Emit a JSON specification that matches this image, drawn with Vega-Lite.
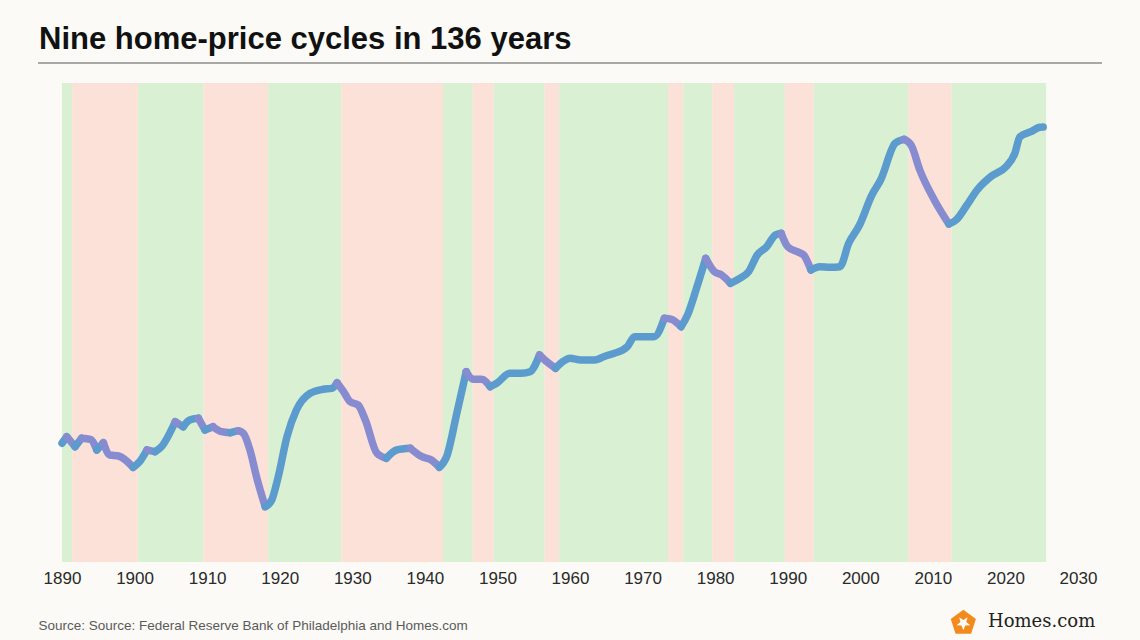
{
  "$schema": "https://vega.github.io/schema/vega-lite/v6.json",
  "width": 1016,
  "height": 479,
  "autosize": {"type": "none"},
  "padding": {"left": 62, "top": 83, "right": 62, "bottom": 78},
  "background": "#fbfaf6",
  "config": {
    "view": {"stroke": null},
    "font": "Liberation Sans"
  },
  "title": {
    "text": "Nine home-price cycles in 136 years",
    "anchor": "start",
    "frame": "group",
    "dx": -23,
    "dy": 51,
    "offset": 33,
    "baseline": "alphabetic",
    "fontSize": 31,
    "fontWeight": "bold",
    "font": "Liberation Sans",
    "color": "#111111"
  },
  "datasets": {
    "bands": [
      {"start": 1890, "end": 1891.4, "phase": "expansion"},
      {"start": 1891.4, "end": 1900.5, "phase": "contraction"},
      {"start": 1900.5, "end": 1909.5, "phase": "expansion"},
      {"start": 1909.5, "end": 1918.4, "phase": "contraction"},
      {"start": 1918.4, "end": 1928.5, "phase": "expansion"},
      {"start": 1928.5, "end": 1942.5, "phase": "contraction"},
      {"start": 1942.5, "end": 1946.6, "phase": "expansion"},
      {"start": 1946.6, "end": 1949.5, "phase": "contraction"},
      {"start": 1949.5, "end": 1956.5, "phase": "expansion"},
      {"start": 1956.5, "end": 1958.5, "phase": "contraction"},
      {"start": 1958.5, "end": 1973.5, "phase": "expansion"},
      {"start": 1973.5, "end": 1975.6, "phase": "contraction"},
      {"start": 1975.6, "end": 1979.6, "phase": "expansion"},
      {"start": 1979.6, "end": 1982.6, "phase": "contraction"},
      {"start": 1982.6, "end": 1989.6, "phase": "expansion"},
      {"start": 1989.6, "end": 1993.6, "phase": "contraction"},
      {"start": 1993.6, "end": 2006.6, "phase": "expansion"},
      {"start": 2006.6, "end": 2012.6, "phase": "contraction"},
      {"start": 2012.6, "end": 2025.6, "phase": "expansion"}
    ],
    "prices": [
      {"run": 1, "dir": "rising", "year": 1890.0, "index": 118.7},
      {"run": 1, "dir": "rising", "year": 1890.65, "index": 125.3},
      {"run": 2, "dir": "falling", "year": 1890.65, "index": 125.3},
      {"run": 2, "dir": "falling", "year": 1891.8, "index": 115.3},
      {"run": 3, "dir": "rising", "year": 1891.8, "index": 115.3},
      {"run": 3, "dir": "rising", "year": 1892.7, "index": 123.7},
      {"run": 4, "dir": "falling", "year": 1892.7, "index": 123.7},
      {"run": 4, "dir": "falling", "year": 1893.9, "index": 122.7},
      {"run": 4, "dir": "falling", "year": 1894.8, "index": 112},
      {"run": 5, "dir": "rising", "year": 1894.8, "index": 112},
      {"run": 5, "dir": "rising", "year": 1895.7, "index": 119.3},
      {"run": 6, "dir": "falling", "year": 1895.7, "index": 119.3},
      {"run": 6, "dir": "falling", "year": 1896.6, "index": 107},
      {"run": 6, "dir": "falling", "year": 1897.8, "index": 106},
      {"run": 6, "dir": "falling", "year": 1899.8, "index": 94.7},
      {"run": 7, "dir": "rising", "year": 1899.8, "index": 94.7},
      {"run": 7, "dir": "rising", "year": 1900.7, "index": 100.3},
      {"run": 7, "dir": "rising", "year": 1901.7, "index": 112},
      {"run": 8, "dir": "falling", "year": 1901.7, "index": 112},
      {"run": 8, "dir": "falling", "year": 1902.8, "index": 110.3},
      {"run": 9, "dir": "rising", "year": 1902.8, "index": 110.3},
      {"run": 9, "dir": "rising", "year": 1903.7, "index": 115.3},
      {"run": 9, "dir": "rising", "year": 1905.6, "index": 140.3},
      {"run": 10, "dir": "falling", "year": 1905.6, "index": 140.3},
      {"run": 10, "dir": "falling", "year": 1906.7, "index": 135.3},
      {"run": 11, "dir": "rising", "year": 1906.7, "index": 135.3},
      {"run": 11, "dir": "rising", "year": 1907.6, "index": 142},
      {"run": 11, "dir": "rising", "year": 1908.8, "index": 143.7},
      {"run": 12, "dir": "falling", "year": 1908.8, "index": 143.7},
      {"run": 12, "dir": "falling", "year": 1909.7, "index": 132},
      {"run": 13, "dir": "rising", "year": 1909.7, "index": 132},
      {"run": 13, "dir": "rising", "year": 1910.8, "index": 135.3},
      {"run": 14, "dir": "falling", "year": 1910.8, "index": 135.3},
      {"run": 14, "dir": "falling", "year": 1912.0, "index": 130.3},
      {"run": 14, "dir": "falling", "year": 1913.2, "index": 129.3},
      {"run": 15, "dir": "rising", "year": 1913.2, "index": 129.3},
      {"run": 15, "dir": "rising", "year": 1914.3, "index": 131.3},
      {"run": 16, "dir": "falling", "year": 1914.3, "index": 131.3},
      {"run": 16, "dir": "falling", "year": 1915.0, "index": 128.7},
      {"run": 16, "dir": "falling", "year": 1915.9, "index": 112},
      {"run": 16, "dir": "falling", "year": 1916.8, "index": 85.3},
      {"run": 16, "dir": "falling", "year": 1918.0, "index": 55.3},
      {"run": 17, "dir": "rising", "year": 1918.0, "index": 55.3},
      {"run": 17, "dir": "rising", "year": 1918.9, "index": 62},
      {"run": 17, "dir": "rising", "year": 1919.8, "index": 85.3},
      {"run": 17, "dir": "rising", "year": 1921.0, "index": 125.3},
      {"run": 17, "dir": "rising", "year": 1922.3, "index": 152},
      {"run": 17, "dir": "rising", "year": 1924.2, "index": 168.7},
      {"run": 17, "dir": "rising", "year": 1926.0, "index": 172.7},
      {"run": 17, "dir": "rising", "year": 1927.2, "index": 173.7},
      {"run": 17, "dir": "rising", "year": 1927.9, "index": 179.3},
      {"run": 18, "dir": "falling", "year": 1927.9, "index": 179.3},
      {"run": 18, "dir": "falling", "year": 1928.8, "index": 170.3},
      {"run": 18, "dir": "falling", "year": 1929.7, "index": 160.3},
      {"run": 18, "dir": "falling", "year": 1930.8, "index": 157},
      {"run": 18, "dir": "falling", "year": 1931.8, "index": 142},
      {"run": 18, "dir": "falling", "year": 1933.4, "index": 108.7},
      {"run": 18, "dir": "falling", "year": 1934.7, "index": 103.7},
      {"run": 19, "dir": "rising", "year": 1934.7, "index": 103.7},
      {"run": 19, "dir": "rising", "year": 1936.1, "index": 112},
      {"run": 19, "dir": "rising", "year": 1938.0, "index": 113.7},
      {"run": 20, "dir": "falling", "year": 1938.0, "index": 113.7},
      {"run": 20, "dir": "falling", "year": 1939.6, "index": 105.3},
      {"run": 20, "dir": "falling", "year": 1940.9, "index": 102},
      {"run": 20, "dir": "falling", "year": 1942.0, "index": 94.7},
      {"run": 21, "dir": "rising", "year": 1942.0, "index": 94.7},
      {"run": 21, "dir": "rising", "year": 1943.0, "index": 105.3},
      {"run": 21, "dir": "rising", "year": 1944.4, "index": 148.7},
      {"run": 21, "dir": "rising", "year": 1945.7, "index": 190.3},
      {"run": 22, "dir": "falling", "year": 1945.7, "index": 190.3},
      {"run": 22, "dir": "falling", "year": 1946.7, "index": 182.7},
      {"run": 22, "dir": "falling", "year": 1947.8, "index": 182.7},
      {"run": 22, "dir": "falling", "year": 1949.0, "index": 175.3},
      {"run": 23, "dir": "rising", "year": 1949.0, "index": 175.3},
      {"run": 23, "dir": "rising", "year": 1949.9, "index": 178.7},
      {"run": 23, "dir": "rising", "year": 1951.7, "index": 188.7},
      {"run": 23, "dir": "rising", "year": 1953.3, "index": 188.7},
      {"run": 23, "dir": "rising", "year": 1954.5, "index": 190.3},
      {"run": 23, "dir": "rising", "year": 1955.8, "index": 207},
      {"run": 24, "dir": "falling", "year": 1955.8, "index": 207},
      {"run": 24, "dir": "falling", "year": 1956.8, "index": 200.3},
      {"run": 24, "dir": "falling", "year": 1958.0, "index": 193.7},
      {"run": 25, "dir": "rising", "year": 1958.0, "index": 193.7},
      {"run": 25, "dir": "rising", "year": 1959.0, "index": 200.3},
      {"run": 25, "dir": "rising", "year": 1960.0, "index": 203.7},
      {"run": 25, "dir": "rising", "year": 1961.5, "index": 202},
      {"run": 25, "dir": "rising", "year": 1963.4, "index": 202},
      {"run": 25, "dir": "rising", "year": 1964.9, "index": 206},
      {"run": 25, "dir": "rising", "year": 1966.1, "index": 208.7},
      {"run": 25, "dir": "rising", "year": 1967.9, "index": 215.3},
      {"run": 25, "dir": "rising", "year": 1968.9, "index": 225.3},
      {"run": 25, "dir": "rising", "year": 1970.1, "index": 225.3},
      {"run": 25, "dir": "rising", "year": 1971.6, "index": 225.3},
      {"run": 25, "dir": "rising", "year": 1973.0, "index": 243.7},
      {"run": 26, "dir": "falling", "year": 1973.0, "index": 243.7},
      {"run": 26, "dir": "falling", "year": 1974.0, "index": 242.7},
      {"run": 26, "dir": "falling", "year": 1975.3, "index": 235.3},
      {"run": 27, "dir": "rising", "year": 1975.3, "index": 235.3},
      {"run": 27, "dir": "rising", "year": 1976.2, "index": 247},
      {"run": 27, "dir": "rising", "year": 1977.5, "index": 275.3},
      {"run": 27, "dir": "rising", "year": 1978.7, "index": 303.7},
      {"run": 28, "dir": "falling", "year": 1978.7, "index": 303.7},
      {"run": 28, "dir": "falling", "year": 1979.9, "index": 290.3},
      {"run": 28, "dir": "falling", "year": 1980.9, "index": 287},
      {"run": 28, "dir": "falling", "year": 1982.1, "index": 278.7},
      {"run": 29, "dir": "rising", "year": 1982.1, "index": 278.7},
      {"run": 29, "dir": "rising", "year": 1983.4, "index": 283.7},
      {"run": 29, "dir": "rising", "year": 1984.6, "index": 290.3},
      {"run": 29, "dir": "rising", "year": 1985.8, "index": 307},
      {"run": 29, "dir": "rising", "year": 1987.1, "index": 315.3},
      {"run": 29, "dir": "rising", "year": 1988.3, "index": 327},
      {"run": 29, "dir": "rising", "year": 1989.1, "index": 328.7},
      {"run": 30, "dir": "falling", "year": 1989.1, "index": 328.7},
      {"run": 30, "dir": "falling", "year": 1990.0, "index": 315.3},
      {"run": 30, "dir": "falling", "year": 1991.3, "index": 310.3},
      {"run": 30, "dir": "falling", "year": 1992.2, "index": 307},
      {"run": 30, "dir": "falling", "year": 1993.2, "index": 292},
      {"run": 31, "dir": "rising", "year": 1993.2, "index": 292},
      {"run": 31, "dir": "rising", "year": 1994.4, "index": 295.3},
      {"run": 31, "dir": "rising", "year": 1995.9, "index": 294.7},
      {"run": 31, "dir": "rising", "year": 1997.2, "index": 295.3},
      {"run": 31, "dir": "rising", "year": 1998.4, "index": 318.7},
      {"run": 31, "dir": "rising", "year": 1999.9, "index": 337},
      {"run": 31, "dir": "rising", "year": 2001.6, "index": 367},
      {"run": 31, "dir": "rising", "year": 2002.8, "index": 382},
      {"run": 31, "dir": "rising", "year": 2004.8, "index": 418.7},
      {"run": 31, "dir": "rising", "year": 2006.0, "index": 422.7},
      {"run": 32, "dir": "falling", "year": 2006.0, "index": 422.7},
      {"run": 32, "dir": "falling", "year": 2007.0, "index": 417},
      {"run": 32, "dir": "falling", "year": 2008.2, "index": 392},
      {"run": 32, "dir": "falling", "year": 2010.2, "index": 362},
      {"run": 32, "dir": "falling", "year": 2012.2, "index": 338},
      {"run": 33, "dir": "rising", "year": 2012.2, "index": 338},
      {"run": 33, "dir": "rising", "year": 2013.2, "index": 342},
      {"run": 33, "dir": "rising", "year": 2014.7, "index": 357},
      {"run": 33, "dir": "rising", "year": 2016.1, "index": 372},
      {"run": 33, "dir": "rising", "year": 2018.1, "index": 386},
      {"run": 33, "dir": "rising", "year": 2020.0, "index": 394.7},
      {"run": 33, "dir": "rising", "year": 2021.3, "index": 408.7},
      {"run": 33, "dir": "rising", "year": 2022.0, "index": 425.3},
      {"run": 33, "dir": "rising", "year": 2023.5, "index": 430.3},
      {"run": 33, "dir": "rising", "year": 2024.7, "index": 434.7},
      {"run": 33, "dir": "rising", "year": 2025.2, "index": 435}
    ]
  },
  "layer": [
    {
      "data": {"name": "bands"},
      "mark": {"type": "rect"},
      "encoding": {
        "x": {
          "field": "start",
          "type": "quantitative",
          "scale": {"domain": [1890, 2030], "nice": false, "zero": false},
          "axis": {
            "values": [1890, 1900, 1910, 1920, 1930, 1940, 1950, 1960, 1970, 1980, 1990, 2000, 2010, 2020, 2030],
            "format": "d",
            "grid": false,
            "ticks": false,
            "domain": false,
            "labelFont": "Liberation Sans",
            "labelFontSize": 17,
            "labelColor": "#2a2a2a",
            "labelPadding": 8,
            "labelFlush": false,
            "title": "Source: Source: Federal Reserve Bank of Philadelphia and Homes.com",
            "titleFont": "Liberation Sans",
            "titleFontSize": 13.5,
            "titleFontWeight": "normal",
            "titleColor": "#5a5a5a",
            "titleAnchor": "start",
            "titleAlign": "left",
            "titleBaseline": "middle",
            "titleX": -24,
            "titleY": 63
          }
        },
        "x2": {"field": "end"},
        "color": {
          "field": "phase",
          "type": "nominal",
          "scale": {
            "domain": ["expansion", "contraction", "rising", "falling"],
            "range": ["#d9f1d2", "#fbe1d8", "#5b9bcd", "#878cd0"]
          },
          "legend": null
        }
      }
    },
    {
      "data": {"name": "prices"},
      "mark": {"type": "line", "strokeWidth": 7.5, "strokeCap": "round", "strokeJoin": "round", "interpolate": "monotone"},
      "encoding": {
        "x": {"field": "year", "type": "quantitative"},
        "y": {
          "field": "index",
          "type": "quantitative",
          "scale": {"domain": [0, 479], "nice": false, "zero": false},
          "axis": null
        },
        "detail": {"field": "run", "type": "nominal"},
        "color": {"field": "dir", "type": "nominal"}
      }
    },
    {
      "data": {"values": [{"line": "divider"}]},
      "mark": {"type": "rule", "color": "#8c8c8c", "strokeWidth": 1.5},
      "encoding": {
        "x": {"datum": 1886.7},
        "x2": {"datum": 2033.3},
        "y": {"datum": 499}
      }
    },
    {
      "data": {"values": [{"brand": "Homes.com"}]},
      "mark": {"type": "point", "filled": true, "color": "#f28a1e", "opacity": 1, "size": 700,
        "shape": "M0,-1L0.951,-0.309L0.588,0.809L-0.588,0.809L-0.951,-0.309Z"},
      "encoding": {
        "x": {"datum": 2014.2},
        "y": {"datum": -61}
      }
    },
    {
      "data": {"values": [{"brand": "Homes.com"}]},
      "mark": {"type": "point", "filled": true, "color": "#fbfaf6", "opacity": 1, "size": 700,
        "shape": "M0,0.55L0.14,0.19L0.52,0.17L0.22,-0.07L0.32,-0.44L0,-0.23L-0.32,-0.44L-0.22,-0.07L-0.52,0.17L-0.14,0.19Z"},
      "encoding": {
        "x": {"datum": 2014.2},
        "y": {"datum": -61}
      }
    },
    {
      "data": {"values": [{"brand": "Homes.com"}]},
      "mark": {"type": "text", "align": "left", "baseline": "middle", "font": "DejaVu Serif", "fontSize": 18, "color": "#222222"},
      "encoding": {
        "x": {"datum": 2017.6},
        "y": {"datum": -60},
        "text": {"field": "brand"}
      }
    }
  ]
}
